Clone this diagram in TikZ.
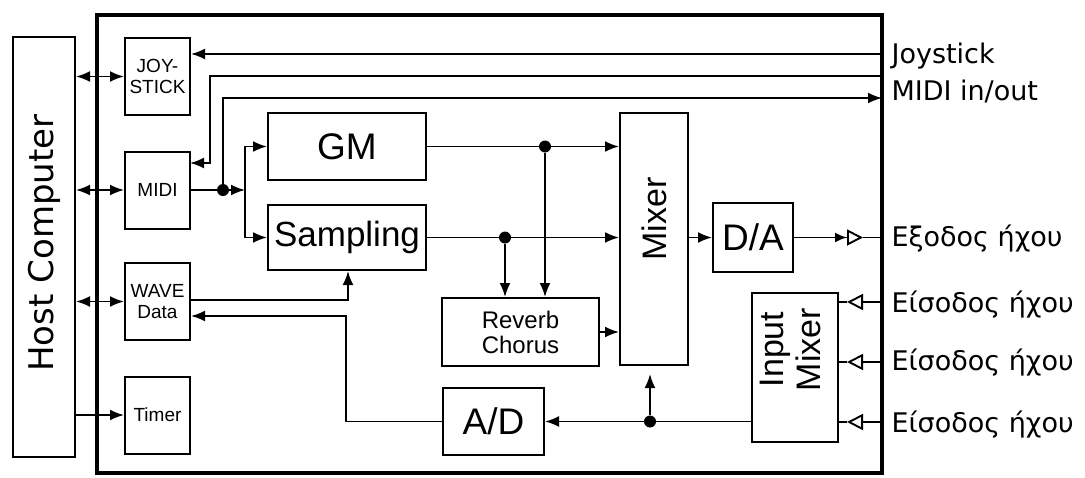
\documentclass[tikz,border=0pt]{standalone}
\usepackage{fontspec}
\setmainfont{Liberation Sans}
\newfontfamily\labelfont{DejaVu Sans}
\usepackage{graphicx}
\usetikzlibrary{arrows.meta,positioning,calc}

\begin{document}
\begin{tikzpicture}[x=1pt,y=-1pt,
    box/.style={draw,line width=2pt,inner sep=0pt},
    smallbox/.style={box,minimum width=65pt,minimum height=77pt,
        font=\fontsize{19}{21}\selectfont,align=center},
    bigtext/.style={font=\fontsize{37}{40}\selectfont},
    wire/.style={line width=1.9pt},
    dot/.style={circle,fill,inner sep=0pt,minimum size=12pt},
    port/.style={anchor=base west,font=\labelfont\fontsize{27}{30}\selectfont},
    >={Latex[length=14pt,width=11pt]}]
    \useasboundingbox (0,0) rectangle (1085,477);

    % 外框
    \draw[line width=4.5pt] (97,15) rectangle (882,473);

    % 主机
    \node[box,minimum width=62pt,minimum height=420pt] (host) at (44,247)
        {\labelfont\fontsize{34}{40}\selectfont\rotatebox{90}{\hspace{8pt}Host Computer}};

    % 接口
    \node[smallbox] (joy)   at (157.5,76.5) {JOY-\\STICK};
    \node[smallbox] (midi)  at (157.5,190)  {MIDI};
    \node[smallbox] (wave)  at (157.5,301.5) {WAVE\\Data};
    \node[smallbox] (timer) at (157.5,415) {Timer};

    % 合成与混音
    \node[box,bigtext,minimum width=158pt,minimum height=67pt] (gm)   at (347,146.5) {GM};
    \node[box,font=\fontsize{35}{38}\selectfont,minimum width=158pt,minimum height=65pt] (samp) at (347,237.5) {Sampling};
    \node[box,font=\fontsize{24}{25}\selectfont,align=center,minimum width=157pt,minimum height=68pt] (reverb) at (520.5,332) {Reverb\\Chorus};
    \node[box,minimum width=68pt,minimum height=252pt] (mixer) at (654,239)
        {\fontsize{34}{37}\selectfont\rotatebox{90}{\hspace{40pt}Mixer}};
    \node[box,bigtext,minimum width=80pt,minimum height=69pt] (da) at (753,237.5) {D/A};
    \node[box,bigtext,minimum width=101pt,minimum height=67pt] (ad) at (493.5,421.5) {A/D};
    \node[box,minimum width=86pt,minimum height=149pt] (inmix) at (795,367.5)
        {\fontsize{34}{37}\selectfont\rotatebox{90}{\hspace{36pt}\begin{tabular}{@{}c@{}}Input\\Mixer\end{tabular}}};

    % 主机总线
    \draw[wire,<->] (host.east |- joy.west) -- (joy.west);
    \draw[wire,<->] (host.east |- midi.west) -- (midi.west);
    \draw[wire,<->] (host.east |- wave.west) -- (wave.west);
    \draw[wire,->] (host.east |- timer.west) -- (timer.west);

    % Joystick / MIDI
    \coordinate (jsport) at (882,54);
    \coordinate (miport) at (882,76);
    \coordinate (moport) at (882,98);
    \coordinate (miturn) at (210,76);
    \coordinate (miin) at (190,163);
    \draw[wire,->] (jsport) -- (jsport -| joy.east);
    \draw[wire,->] (miport) -- (miturn) |- (miin);
    \node[dot] (mdot) at (223,190) {};
    \coordinate (split) at (245,190);
    \draw[wire] (midi.east) -- (mdot);
    \draw[wire,->] (mdot) -- (split);
    \draw[wire,->] (mdot) |- (moport);
    \draw[wire,->] (split) |- (gm.west);
    \draw[wire,->] (split) |- (samp.west);

    % 到混音器
    \draw[wire,->] (gm.east) -- (gm.east -| mixer.west);
    \draw[wire,->] (samp.east) -- (samp.east -| mixer.west);
    \node[dot] (gdot) at (545,146.5) {};
    \node[dot] (sdot) at (505,237.5) {};
    \draw[wire,->] (gdot) -- (gdot |- reverb.north);
    \draw[wire,->] (sdot) -- (sdot |- reverb.north);
    \draw[wire,->] (reverb.east) -- (reverb.east -| mixer.west);
    \draw[wire,->] (mixer.east |- da.west) -- (da.west);

    % 输出
    \coordinate (outport) at (882,237.5);
    \coordinate (outtip) at (863,237.5);
    \draw[wire,-{Latex[length=12pt,width=10pt] Triangle[open,length=16pt,width=16pt]}] (da.east) -- (outtip);
    \draw[wire] (outtip) -- (outport);

    % 输入
    \foreach \y [count=\i] in {302,362,422} {
        \coordinate (in\i) at (882,\y);
        \coordinate (in\i tip) at (847,\y);
        \draw[wire,-{Triangle[open,length=16pt,width=16pt]}] (in\i) -- (in\i tip);
        \draw[wire] (in\i tip) -- (in\i tip -| inmix.east);
    }

    % A/D 与 WAVE
    \draw[wire,->] (inmix.west |- ad.east) -- (ad.east);
    \node[dot] (adot) at (650,421.5) {};
    \draw[wire,->,shorten >=8pt] (adot) -- (adot |- mixer.south);
    \coordinate (adturn) at (346,316);
    \draw[wire,->] (ad.west) -| (adturn) -- (adturn -| wave.east);
    \coordinate (wvturn) at (348,300);
    \draw[wire,->] (wvturn -| wave.east) -- (wvturn) -- (wvturn |- samp.south);

    % 标注
    \node[port] (jslab) at (888,63) {Joystick};
    \node[port] (milab) at (888,100) {MIDI in/out};
    \node[port] (outlab) at (888,246) {Εξοδος ήχου};
    \foreach \y [count=\i] in {312,370,432} {
        \node[port] (inlab\i) at (888,\y) {Είσοδος ήχου};
    }
\end{tikzpicture}
\end{document}
